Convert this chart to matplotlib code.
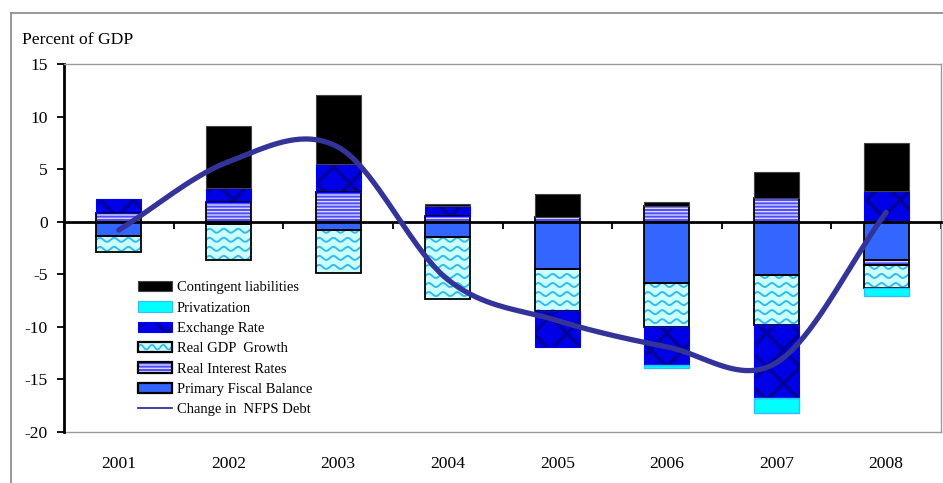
import numpy as np
import matplotlib
matplotlib.use("Agg")
import matplotlib.pyplot as plt
from matplotlib.patches import Rectangle, Patch
from matplotlib.lines import Line2D
from matplotlib.legend_handler import HandlerBase

# ---- data (percent of GDP) ----
years = ["2001", "2002", "2003", "2004", "2005", "2006", "2007", "2008"]
primary_balance = [-1.35, -0.2, -0.8, -1.5, -4.45, -5.8, -5.05, -3.65]
real_interest = [0.8, 1.9, 2.85, 0.55, 0.45, 1.45, 2.3, -0.5]
real_gdp_growth = [-1.5, -3.45, -4.1, -5.85, -4.05, -4.2, -4.8, -2.2]
exchange_rate = [1.35, 1.35, 2.65, 0.9, -3.45, -3.65, -6.9, 2.9]
privatization = [0.0, 0.0, 0.0, 0.0, 0.0, -0.25, -1.4, -0.7]
contingent = [0.0, 5.9, 6.55, 0.25, 2.15, 0.4, 2.4, 4.55]
nfps_change = [-0.8, 5.7, 7.1, -5.5, -9.4, -11.9, -13.4, 0.9]

plt.rcParams["font.family"] = ["Liberation Serif", "DejaVu Serif"]
plt.rcParams["axes.unicode_minus"] = False

W, H = 943, 483
fig = plt.figure(figsize=(W / 100, H / 100), dpi=100)
ax = fig.add_axes([64 / W, 51 / H, 877 / W, 368 / H])

x = np.arange(len(years))
bw = 0.41

WAVE_BG = "#CCFFFF"
WAVE_FG = "#33BBEE"

# series styles (drawing order = stacking order)
styles = {
    "Primary Fiscal Balance": dict(face="#3366FF", hatch=None, hcol=None, edge="black", elw=1.3),
    "Real Interest Rates": dict(face="#4D4DFF", hatch="-----", hcol="#D8D8FF", edge="black", elw=1.3),
    "Real GDP  Growth": dict(face=WAVE_BG, hatch=None, hcol=None, edge="black", elw=1.3, waves=True),
    "Exchange Rate": dict(face="#0000E6", hatch="x", hcol="#00009E", edge="#0000FF", elw=0.8),
    "Privatization": dict(face="#00FFFF", hatch=None, hcol=None, edge="#33BBFF", elw=1.0),
    "Contingent liabilities": dict(face="black", hatch=None, hcol=None, edge="#444444", elw=0.8),
}
series = [
    ("Primary Fiscal Balance", primary_balance),
    ("Real Interest Rates", real_interest),
    ("Real GDP  Growth", real_gdp_growth),
    ("Exchange Rate", exchange_rate),
    ("Privatization", privatization),
    ("Contingent liabilities", contingent),
]


def set_hatch_lw(patch, lw):
    if hasattr(patch, "set_hatch_linewidth"):
        patch.set_hatch_linewidth(lw)


def add_waves(axis, rect, color, lw=1.4):
    x0, y0 = rect.get_x(), rect.get_y()
    w, h = rect.get_width(), rect.get_height()
    ylo, yhi = min(y0, y0 + h), max(y0, y0 + h)
    if yhi - ylo <= 0:
        return
    xs = np.linspace(x0, x0 + w, 200)
    spacing, amp, period = 0.86, 0.19, 0.13
    for yc in np.arange(np.floor(ylo / spacing) * spacing, yhi + spacing, spacing):
        ys = yc + amp * np.sin(2 * np.pi * (xs - x0) / period)
        ln, = axis.plot(xs, ys, color=color, lw=lw, zorder=2.1, solid_capstyle="butt")
        ln.set_clip_path(rect)


pos_base = np.zeros(len(years))
neg_base = np.zeros(len(years))
for name, vals in series:
    vals = np.asarray(vals, dtype=float)
    bottoms = np.where(vals >= 0, pos_base, neg_base)
    st = styles[name]
    mask = vals != 0
    if st["hatch"]:
        fill = ax.bar(x[mask], vals[mask], bw, bottom=bottoms[mask], color=st["face"],
                      edgecolor=st["hcol"], linewidth=0, hatch=st["hatch"], zorder=2)
        for p in fill:
            set_hatch_lw(p, 2.6 if st["hatch"] == "x" else 1.0)
    else:
        fill = ax.bar(x[mask], vals[mask], bw, bottom=bottoms[mask], color=st["face"],
                      linewidth=0, zorder=2)
    if st.get("waves"):
        for p in fill:
            add_waves(ax, p, WAVE_FG)
    ax.bar(x[mask], vals[mask], bw, bottom=bottoms[mask], fill=False,
           edgecolor=st["edge"], linewidth=st["elw"], zorder=2.3)
    pos_base = pos_base + np.where(vals > 0, vals, 0)
    neg_base = neg_base + np.where(vals < 0, vals, 0)


# smoothed debt-change line (Catmull-Rom through yearly values)
def catmull_rom(xp, yp, n=40):
    xp = np.asarray(xp, float)
    yp = np.asarray(yp, float)
    m = np.zeros_like(yp)
    m[1:-1] = (yp[2:] - yp[:-2]) / 2.0
    m[0] = yp[1] - yp[0]
    m[-1] = yp[-1] - yp[-2]
    xs, ys = [], []
    for i in range(len(xp) - 1):
        t = np.linspace(0, 1, n, endpoint=(i == len(xp) - 2))
        h00 = 2 * t**3 - 3 * t**2 + 1
        h10 = t**3 - 2 * t**2 + t
        h01 = -2 * t**3 + 3 * t**2
        h11 = t**3 - t**2
        xs.append(xp[i] + t * (xp[i + 1] - xp[i]))
        ys.append(h00 * yp[i] + h10 * m[i] + h01 * yp[i + 1] + h11 * m[i + 1])
    return np.concatenate(xs), np.concatenate(ys)


lx, ly = catmull_rom(x, nfps_change)
ax.plot(lx, ly, color="#333399", lw=3.8, zorder=3, solid_capstyle="round")

# axes styling
ax.set_xlim(-0.5, len(years) - 0.5)
ax.set_ylim(-20, 15)
ax.set_yticks(np.arange(-20, 16, 5))
ax.tick_params(axis="y", direction="out", length=5, width=1.3, pad=6.5,
               labelsize=12.6, colors="black")
ax.spines["left"].set_linewidth(2.0)
ax.spines["left"].set_color("black")
for s in ("top", "right"):
    ax.spines[s].set_color("#999999")
    ax.spines[s].set_linewidth(1.0)

ax.spines["bottom"].set_position(("data", 0))
ax.spines["bottom"].set_linewidth(2.0)
ax.spines["bottom"].set_color("black")
ax.set_xticks(np.arange(-0.5, len(years), 1.0))
ax.set_xticklabels([])
ax.tick_params(axis="x", direction="out", length=5, width=1.3, colors="black")

sec = ax.secondary_xaxis("bottom")
sec.set_xticks(x)
sec.set_xticklabels(years)
sec.tick_params(axis="x", length=0, pad=17, labelsize=12.6)
sec.spines["bottom"].set_color("#999999")
sec.spines["bottom"].set_linewidth(1.0)

fig.text(22 / W, 1 - 40 / H, "Percent of GDP", fontsize=12.6, va="center", ha="left")

# outer frame
fig.add_artist(Line2D([11 / W, 1.0], [1 - 13 / H, 1 - 13 / H], transform=fig.transFigure,
                      color="#888888", lw=1.2))
fig.add_artist(Line2D([11 / W, 11 / W], [0.0, 1 - 13 / H], transform=fig.transFigure,
                      color="#888888", lw=1.2))


# legend
class BoxHandler(HandlerBase):
    def __init__(self, face, edge, elw, hatch=None, hcol=None, hlw=1.0, waves=False):
        super().__init__()
        self.face, self.edge, self.elw = face, edge, elw
        self.hatch, self.hcol, self.hlw, self.waves = hatch, hcol, hlw, waves

    def create_artists(self, legend, orig_handle, xdescent, ydescent, width, height,
                       fontsize, trans):
        x0, y0 = -xdescent, -ydescent
        arts = []
        fill = Rectangle((x0, y0), width, height, facecolor=self.face,
                         edgecolor=self.hcol if self.hatch else "none",
                         linewidth=0, hatch=self.hatch, transform=trans)
        if self.hatch:
            set_hatch_lw(fill, self.hlw)
        arts.append(fill)
        if self.waves:
            xs = np.linspace(x0, x0 + width, 80)
            ys = y0 + height / 2 + height * 0.22 * np.sin(2 * np.pi * (xs - x0) / (width / 3.0))
            arts.append(Line2D(xs, ys, color=WAVE_FG, lw=1.3, transform=trans))
        arts.append(Rectangle((x0, y0), width, height, facecolor="none",
                              edgecolor=self.edge, linewidth=self.elw, transform=trans))
        return arts


labels = ["Contingent liabilities", "Privatization", "Exchange Rate", "Real GDP  Growth",
          "Real Interest Rates", "Primary Fiscal Balance", "Change in  NFPS Debt"]
proxies = [Patch(label=l) for l in labels[:-1]]
line_proxy = Line2D([], [], color="#333399", lw=1.3)
hmap = {}
for p, l in zip(proxies, labels[:-1]):
    st = styles[l]
    outlined = l in ("Real GDP  Growth", "Real Interest Rates", "Primary Fiscal Balance")
    hmap[p] = BoxHandler(st["face"], "black" if outlined else st["edge"],
                         1.6 if outlined else 0.8,
                         hatch=st["hatch"], hcol=st["hcol"],
                         hlw=2.6 if st["hatch"] == "x" else 1.0, waves=st.get("waves", False))
leg = ax.legend(proxies + [line_proxy], labels, handler_map=hmap, loc="upper left",
                bbox_to_anchor=((138 - 64) / 877, (432 - 281) / 368), frameon=False,
                fontsize=10.5, borderpad=0, borderaxespad=0, handlelength=2.3,
                handleheight=0.7, handletextpad=0.35, labelspacing=0.49)

fig.savefig("out.png", dpi=100)
